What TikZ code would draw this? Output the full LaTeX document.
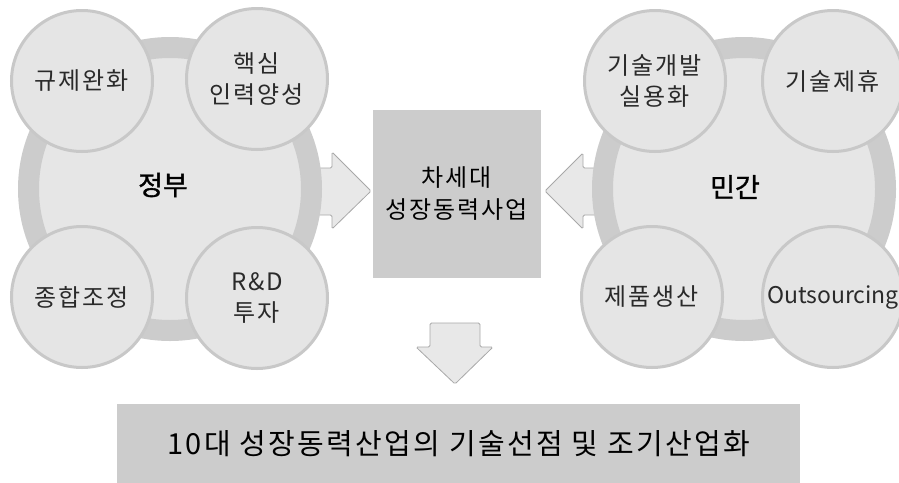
\documentclass[tikz,border=0pt]{standalone}
\usepackage{fontspec}
\setmainfont{Noto Sans CJK KR}[LetterSpace=8]
\newfontfamily\krbold[FakeBold=1.2]{Noto Sans CJK KR}
\newfontfamily\krplain{Noto Sans CJK KR}
\definecolor{ringgray}{HTML}{CCCCCC}
\definecolor{innergray}{HTML}{E6E6E6}
\definecolor{smallfill}{HTML}{E5E5E5}
\definecolor{smalledge}{HTML}{C8C8C8}
\definecolor{boxgray}{HTML}{CCCCCC}
\definecolor{arrowfill}{HTML}{E8E8E8}
\definecolor{arrowedge}{HTML}{A8A8A8}
\definecolor{labelgray}{HTML}{2A2A2A}
\begin{document}
\begin{tikzpicture}[x=1pt,y=-1pt,
  ring/.style={circle, draw=ringgray, fill=innergray, line width=21pt, minimum size=283pt, inner sep=0pt},
  bubble/.style={circle, draw=smalledge, fill=smallfill, line width=3pt, minimum size=141pt, inner sep=0pt, align=center, text=labelgray, font=\fontsize{24}{31}\selectfont},
  hub/.style={font=\krbold\fontsize{27}{32}\selectfont, text=black},
  corebox/.style={rectangle, fill=boxgray, draw=none, align=center, font=\fontsize{24}{32}\selectfont, text=black},
  blockarrow/.style={fill=arrowfill, draw=arrowedge, line width=0.8pt, rounded corners=1.5pt}
]
\useasboundingbox (0,0) rectangle (899,482);

% block arrows (drawn first so the rings cover the shaft ends)
\draw[blockarrow] (318,168) -- (332,168) -- (332,152) -- (371,191) -- (332,229) -- (332,215) -- (318,215) -- cycle;
\draw[blockarrow] (602,168) -- (583,168) -- (583,153) -- (545,191) -- (583,229) -- (583,215) -- (602,215) -- cycle;
\draw[blockarrow] (430,323) -- (480,323) -- (480,347) -- (493,347) -- (455,384) -- (416,347) -- (430,347) -- cycle;

% government group
\node[ring] (gov) at (170,189) {};
\node[hub] (govtext) at (163,185) {정부};
\node[bubble] (g1) at (82,81) {규제완화};
\node[bubble] (g2) at (257,79) {핵심\\인력양성};
\node[bubble] (g3) at (82,297) {종합조정};
\node[bubble] (g4) at (257,298) {R\&D\\투자};

% private group
\node[ring] (pri) at (744,189) {};
\node[hub] (pritext) at (735,187) {민간};
\node[bubble] (p1) at (655,81) {기술개발\\실용화};
\node[bubble] (p2) at (833,81) {기술제휴};
\node[bubble] (p3) at (652,297) {제품생산};
\node[bubble, font=\krplain\fontsize{23}{31}\selectfont] (p4) at (833,297) {Outsourcing};

% center box
\node[corebox, minimum width=168pt, minimum height=168pt] (core) at (457,194) {차세대\\성장동력사업};

% bottom box
\node[corebox, minimum width=683pt, minimum height=80pt, font=\fontsize{29}{32}\selectfont] (goal) at (458.5,444) {10대 성장동력산업의 기술선점 및 조기산업화};
\end{tikzpicture}
\end{document}
